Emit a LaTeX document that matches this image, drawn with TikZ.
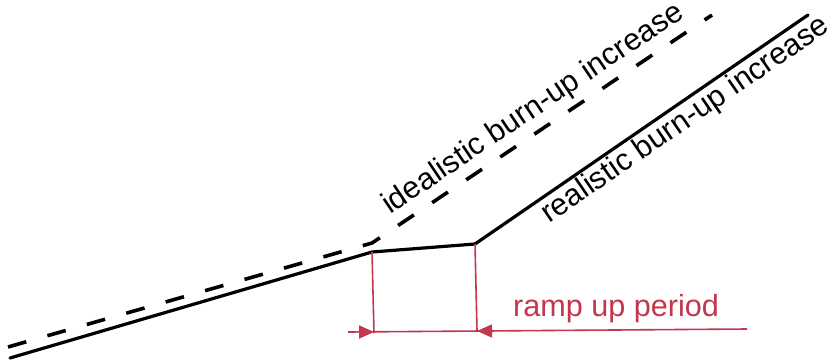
\documentclass[tikz,border=0pt]{standalone}
\usepackage{fontspec}
\setmainfont{Liberation Sans}
\usetikzlibrary{arrows.meta}
\definecolor{rampred}{RGB}{196,54,78}
\tikzset{
  curve/.style={line width=3.2pt, line join=round, line cap=round},
  idealcurve/.style={line width=3.6pt, dash pattern=on 19pt off 22pt},
  dimline/.style={rampred, line width=1.6pt},
  dimarrow/.style={rampred, line width=1.6pt, -{Triangle[length=15pt,width=13pt]}},
  lab/.style={inner sep=0pt, font=\fontsize{30.6}{36}\selectfont},
}
\begin{document}
\begin{tikzpicture}[x=1pt,y=-1pt]
\useasboundingbox (0,0) rectangle (834,361);
% realistic curve
\coordinate (s0) at (10,358);
\coordinate (s1) at (372,252);
\coordinate (s2) at (475,244);
\coordinate (s3) at (808,15);
\draw[curve] (s0) -- (s1) -- (s2) -- (s3);
% idealistic curve
\coordinate (d0) at (8,347);
\coordinate (d1) at (372,243);
\coordinate (d2) at (712,15);
\draw[idealcurve] (d0) -- (d1) -- (d2);
% labels
\node[lab, anchor=base west, rotate=33.9] (ideal) at (390,215) {idealistic burn-up increase};
\node[lab, anchor=base west, rotate=34.5] (real) at (549,224) {realistic burn-up increase};
% ramp up period
\coordinate (v1b) at (374,333);
\coordinate (v2b) at (477,331);
\draw[dimline] (s1) -- (v1b);
\draw[dimline] (s2) -- (v2b);
\coordinate (hl) at (348,332);
\coordinate (hr) at (747,329);
\draw[dimline] (hl) -- (hr);
\coordinate (al) at (362,332);
\coordinate (ar) at (494,331);
\draw[dimarrow] (al) -- (v1b |- al);
\draw[dimarrow] (ar) -- (v2b |- ar);
\node[lab, rampred, anchor=base west] (ramp) at (513,316) {ramp up period};
\end{tikzpicture}
\end{document}
